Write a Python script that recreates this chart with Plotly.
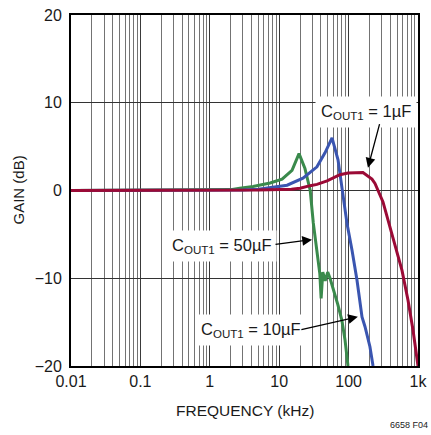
import math
import plotly.graph_objects as go

# ---- data (frequency in kHz, gain in dB) ----
freq_50uF = [0.01, 1, 2, 2.7, 4.2, 7.4, 11, 15.3, 19.3, 23.5, 26, 28, 31, 35, 38.5, 40.2, 42.5, 46, 50, 54, 62, 70, 80, 88.7, 98]
gain_50uF = [0, 0.02, 0.1, 0.25, 0.45, 0.85, 1.3, 2.3, 4.2, 2.5, 0.85, 0, -3.7, -6.8, -9.5, -12.3, -9.3, -10.3, -9.3, -10.0, -11.5, -13, -14.8, -17, -20]

freq_10uF = [0.01, 1, 3, 5, 7.4, 13, 22, 35, 45.7, 57.7, 70.4, 80.4, 95, 112, 132, 156, 172, 203, 225]
gain_10uF = [0, 0.01, 0.05, 0.15, 0.3, 0.6, 1.4, 2.7, 4.3, 6.0, 3.5, 0.2, -3.8, -6.8, -10.2, -14.4, -15.5, -17.8, -20]

freq_1uF = [0.01, 1, 5, 15, 20, 28, 35, 49, 75, 98, 120, 161, 217, 240, 313, 436, 588, 718, 847, 1000]
gain_1uF = [0, 0, 0.05, 0.15, 0.25, 0.55, 0.7, 1.1, 1.8, 2.0, 2.05, 2.05, 1.3, 0.8, -1.3, -5.3, -9.1, -12.5, -15.9, -20]

x_tickvals = [0.01, 0.1, 1, 10, 100, 1000]
x_ticktext = ["0.01", "0.1", "1", "10", "100", "1k"]
y_tickvals = [-20, -10, 0, 10, 20]

FONT = "Liberation Sans, Arial, sans-serif"
TXT = "#1a1a1a"

fig = go.Figure()
fig.add_trace(go.Scatter(x=freq_50uF, y=gain_50uF, mode="lines",
                         line=dict(color="#3a8a4c", width=3), showlegend=False))
fig.add_trace(go.Scatter(x=freq_10uF, y=gain_10uF, mode="lines",
                         line=dict(color="#3a55b0", width=3), showlegend=False))
fig.add_trace(go.Scatter(x=freq_1uF, y=gain_1uF, mode="lines",
                         line=dict(color="#9b0a36", width=3), showlegend=False))

lbl_font = dict(family=FONT, size=16.5, color=TXT)

def label(text, fx, gy):
    fig.add_annotation(x=math.log10(fx), y=gy, xref="x", yref="y", text=text,
                       showarrow=False, bgcolor="white", borderpad=5, font=lbl_font)

def arrow(fx, gy, ax, ay):
    fig.add_annotation(x=math.log10(fx), y=gy, xref="x", yref="y", text="",
                       showarrow=True, ax=ax, ay=ay, arrowhead=2, arrowsize=1.5,
                       arrowwidth=1.3, arrowcolor="black")

label("C<sub>OUT1</sub> = 1µF", 178, 8.9)
label("C<sub>OUT1</sub> = 50µF", 1.45, -6.3)
label("C<sub>OUT1</sub> = 10µF", 3.8, -15.9)
arrow(190, 2.6, 12, -45)
arrow(29.7, -5.6, -38, 5)
arrow(136, -14.4, -58, 13)

# axis titles and figure code
fig.add_annotation(x=0.5, y=0, xref="paper", yref="paper", xanchor="center", yanchor="middle",
                   yshift=-44, text="FREQUENCY (kHz)", showarrow=False,
                   font=dict(family=FONT, size=15.5, color=TXT))
fig.add_annotation(x=0, y=0.5, xref="paper", yref="paper", xanchor="center", yanchor="middle",
                   xshift=-53, text="GAIN (dB)", textangle=-90, showarrow=False,
                   font=dict(family=FONT, size=15, color=TXT))
fig.add_annotation(x=0.974, y=0, xref="paper", yref="paper", xanchor="center", yanchor="middle",
                   yshift=-59, text="6658 F04", showarrow=False,
                   font=dict(family=FONT, size=9, color="#222"))

fig.update_xaxes(type="log", range=[-2, 3], tickvals=x_tickvals, ticktext=x_ticktext,
                 showgrid=True, gridcolor="#3a3a3a", gridwidth=1,
                 minor=dict(dtick="D1", showgrid=True, gridcolor="#737373", gridwidth=1, ticks=""),
                 showline=True, linecolor="black", linewidth=2, mirror=True,
                 ticks="", tickfont=dict(family=FONT, size=16, color=TXT),
                 ticklabeloverflow="allow", automargin=False, zeroline=False)
fig.update_yaxes(range=[-20, 20], tickvals=y_tickvals,
                 showgrid=True, gridcolor="#333", gridwidth=1,
                 showline=True, linecolor="black", linewidth=2, mirror=True,
                 ticks="", tickfont=dict(family=FONT, size=16, color=TXT),
                 ticklabelstandoff=4, ticklabeloverflow="allow", automargin=False, zeroline=False)

fig.update_layout(width=431, height=435, margin=dict(l=71, r=13, t=15, b=69),
                  plot_bgcolor="white", paper_bgcolor="white",
                  font=dict(family=FONT))

# remove the browser's default body margin so the figure fills the window exactly
fig.write_html("out.html", config={"displayModeBar": False},
               post_script="document.body.style.margin='0';document.body.style.overflow='hidden';")
